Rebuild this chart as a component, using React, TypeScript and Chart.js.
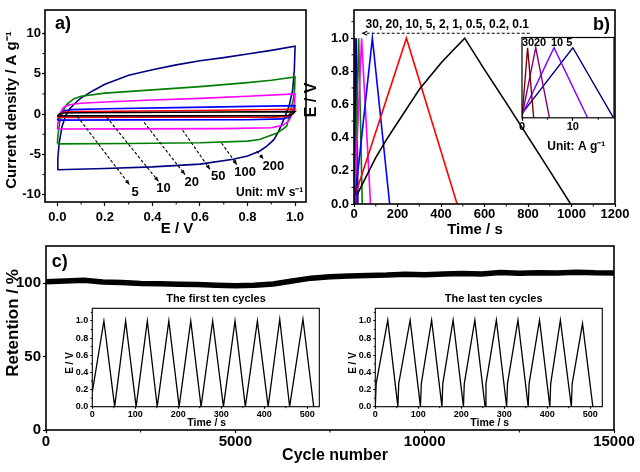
import React, { useEffect, useRef } from 'react';
import { Chart, registerables } from 'chart.js';

Chart.register(...registerables);

const FONT = "'Liberation Sans', Arial, Helvetica, sans-serif";
const bold = (s: number) => `bold ${s}px ${FONT}`;

// ---------------- Panel a: cyclic voltammetry (E / V, A g-1) ----------------
const cvRates = ['5', '10', '20', '50', '100', '200'];
const cvColors = ['#000000', '#ff0000', '#0000ff', '#ff00ff', '#008000', '#000080'];
const cv5: [number, number][] = [
  [0, -0.22], [0.01, 0.05], [0.03, 0.13], [0.1, 0.17], [0.5, 0.22], [1.0, 0.3],
  [0.99, 0.0], [0.97, -0.17], [0.9, -0.2], [0.5, -0.22], [0.0, -0.23],
];
const cv10: [number, number][] = [
  [0, -0.4], [0.01, 0.0], [0.03, 0.25], [0.1, 0.32], [0.5, 0.42], [1.0, 0.6],
  [0.99, 0.1], [0.97, -0.3], [0.9, -0.38], [0.5, -0.4], [0.0, -0.42],
];
const cv20: [number, number][] = [
  [0, -0.75], [0.01, -0.1], [0.03, 0.42], [0.06, 0.55], [0.2, 0.65], [0.5, 0.8], [1.0, 1.05],
  [0.995, 0.4], [0.98, -0.3], [0.95, -0.6], [0.8, -0.7], [0.3, -0.72], [0.0, -0.75],
];
const cv50: [number, number][] = [
  [0, -1.85], [0.003, -1.0], [0.01, 0.0], [0.025, 0.8], [0.05, 1.15], [0.1, 1.35], [0.2, 1.5],
  [0.4, 1.75], [0.6, 1.95], [0.8, 2.2], [1.0, 2.5],
  [0.998, 1.5], [0.99, 0.3], [0.975, -0.8], [0.95, -1.4], [0.9, -1.7], [0.7, -1.8], [0.3, -1.83], [0.0, -1.85],
];
const cv100: [number, number][] = [
  [0, -3.65], [0.003, -2.5], [0.01, -1.0], [0.02, 0.2], [0.04, 1.2], [0.07, 1.9], [0.1, 2.2],
  [0.2, 2.6], [0.4, 3.0], [0.6, 3.4], [0.8, 3.9], [0.9, 4.2], [1.0, 4.6],
  [0.998, 3.0], [0.993, 1.8], [0.98, 0.3], [0.965, -1.5], [0.925, -2.35], [0.85, -3.15], [0.8, -3.35],
  [0.6, -3.55], [0.3, -3.65], [0.0, -3.7],
];
const cv200: [number, number][] = [
  [0, -6.9], [0.002, -5.5], [0.008, -3.5], [0.02, -1.5], [0.035, -0.2], [0.05, 0.6], [0.08, 1.5],
  [0.1, 2.0], [0.15, 2.9], [0.2, 3.7], [0.3, 4.8], [0.4, 5.5], [0.5, 6.1], [0.6, 6.6], [0.7, 7.0],
  [0.8, 7.45], [0.9, 7.9], [1.0, 8.4],
  [0.997, 5.5], [0.99, 3.0], [0.975, 1.0], [0.955, -0.5], [0.93, -2.2], [0.91, -3.2], [0.88, -4.0],
  [0.85, -4.6], [0.8, -5.2], [0.74, -5.6], [0.6, -6.2], [0.4, -6.55], [0.2, -6.75], [0.0, -6.9],
];
const cvArrowFrom: [number, number][] = [[0.084, -0.29], [0.207, -0.37], [0.365, -1.03], [0.527, -2.0], [0.691, -3.59], [0.839, -4.6]];
const cvArrowTo: [number, number][] = [[0.303, -8.74], [0.425, -8.33], [0.537, -7.5], [0.642, -6.85], [0.755, -6.27], [0.867, -5.57]];
const cvLabelAt: [number, number][] = [[0.327, -9.7], [0.446, -9.27], [0.565, -8.45], [0.677, -7.75], [0.79, -7.2], [0.909, -6.47]];
const aXTicks = [0, 0.2, 0.4, 0.6, 0.8, 1.0];
const aYTicks = [-10, -5, 0, 5, 10];
const aXMinor = [0.1, 0.3, 0.5, 0.7, 0.9];
const aYMinor = [-7.5, -2.5, 2.5, 7.5];

// ---------------- Panel b: galvanostatic charge/discharge (Time / s, E / V) ----------------
const gcdRates = ['0.1', '0.2', '0.5', '1', '2', '5', '10', '20', '30'];
const gcdColors = ['#000000', '#ff0000', '#0000ff', '#ff00ff', '#008000', '#000080', '#8000ff', '#800080', '#800000'];
const gcd01: [number, number][] = [
  [14, 0.055], [50, 0.15], [100, 0.28], [150, 0.39], [200, 0.49], [250, 0.59], [300, 0.69],
  [350, 0.77], [400, 0.85], [450, 0.92], [509, 1.0], [600, 0.81], [700, 0.61], [800, 0.405], [900, 0.2], [996, 0],
];
const gcd02: [number, number][] = [[12, 0.08], [241, 1.0], [474, 0]];
const gcd05: [number, number][] = [[6, 0.05], [84.5, 1.0], [164, 0]];
const gcd1: [number, number][] = [[3, 0.04], [35, 1.0], [76, 0]];
const gcd2: [number, number][] = [[2, 0.03], [21.5, 1.0], [38, 0]];
const gcd5: [number, number][] = [[0, 0.06], [10, 1.0], [18, 0]];
const gcd10: [number, number][] = [[0, 0.04], [6.3, 1.0], [12.9, 0]];
const gcd20: [number, number][] = [[0, 0.02], [2.7, 1.0], [5.4, 0]];
const gcd30: [number, number][] = [[0, 0.0], [1.1, 1.0], [2.3, 0]];
const bXTicks = [0, 200, 400, 600, 800, 1000, 1200];
const bYTicks = [0, 0.2, 0.4, 0.6, 0.8, 1.0];
const bXMinor = [100, 300, 500, 700, 900, 1100];
const bYMinor = [0.1, 0.3, 0.5, 0.7, 0.9, 1.1];
const insetRates = ['30', '20', '10', '5'];
const insetLabelAt: [number, number][] = [[1.2, 1.075], [3.55, 1.075], [6.9, 1.075], [9.3, 1.075]];
const bInsetXTicks = [0, 10];
const bInsetXMinor = [5, 15];

// ---------------- Panel c: cycling stability ----------------
const cycles = [0, 500, 1000, 1500, 2000, 2500, 3000, 3500, 4000, 4500, 5000, 5500, 6000, 6500, 7000, 7500,
  8000, 8500, 9000, 9500, 10000, 10500, 11000, 11500, 12000, 12500, 13000, 13500, 14000, 14500, 15000];
const retention = [101.0, 101.6, 102.0, 100.9, 100.6, 99.9, 99.6, 99.4, 99.1, 98.7, 98.3, 98.7, 99.5, 101.5,
  103.5, 104.5, 105.0, 105.3, 105.6, 106.2, 105.8, 106.4, 106.6, 106.4, 107.3, 106.9, 107.2, 107.0, 107.5, 107.1, 107.0];
const cXTicks = [0, 5000, 10000, 15000];
const cYTicks = [0, 50, 100];
const cXMinor = [2500, 7500, 12500];

const firstT = [0, 27, 52, 77.5, 102, 128, 151, 178, 202, 229, 253, 280, 305, 332, 356, 384, 409, 436, 459, 490, 515];
const firstE = [0.17, 1.0, 0, 1.0, 0, 1.0, 0, 1.0, 0, 1.0, 0, 1.0, 0, 1.0, 0, 1.0, 0, 1.02, 0, 1.02, 0];
const lastT = [0, 2, 29, 52.5, 54.5, 81, 105, 107, 131, 155, 157, 181, 205, 207, 231.5, 255.4, 257.4, 281.6,
  305.5, 307.5, 331.8, 355.7, 357.7, 382, 406, 408, 430.5, 456, 458, 482, 506];
const lastE = [0, 0.27, 1.01, 0, 0.27, 1.01, 0, 0.27, 1.01, 0, 0.27, 1.01, 0, 0.27, 1.01, 0, 0.27, 1.01,
  0, 0.27, 1.01, 0, 0.27, 1.01, 0, 0.27, 1.01, 0, 0.27, 0.97, 0];
const insXTicks = [0, 100, 200, 300, 400, 500];
const insYTicks = [0, 0.2, 0.4, 0.6, 0.8, 1.0];
const insXMinor = [50, 150, 250, 350, 450];
const insYMinor = [0.1, 0.3, 0.5, 0.7, 0.9, 1.1];

// ---------------- helpers ----------------
type Txt = { text: string; x: number; y: number; size: number; align?: CanvasTextAlign; rot?: number; data?: boolean };
type Arrow = { from: [number, number]; to: [number, number]; filled: boolean; head: number };
type Deco = {
  frame: number; minorX?: number[]; minorY?: number[]; minorLen?: number;
  texts?: Txt[]; arrows?: Arrow[];
};

function makeDeco(cfg: Deco) {
  return {
    id: 'deco',
    afterDraw(chart: any) {
      const ctx: CanvasRenderingContext2D = chart.ctx;
      const ca = chart.chartArea;
      const xs = chart.scales.x;
      const ys = chart.scales.y;
      ctx.save();
      ctx.strokeStyle = '#000';
      ctx.fillStyle = '#000';
      ctx.lineWidth = 1;
      const ml = cfg.minorLen ?? 2.5;
      ctx.beginPath();
      (cfg.minorX || []).forEach((v) => {
        const p = xs.getPixelForValue(v);
        ctx.moveTo(p, ca.bottom);
        ctx.lineTo(p, ca.bottom + ml);
      });
      (cfg.minorY || []).forEach((v) => {
        const p = ys.getPixelForValue(v);
        ctx.moveTo(ca.left - ml, p);
        ctx.lineTo(ca.left, p);
      });
      ctx.stroke();
      ctx.lineWidth = cfg.frame;
      ctx.strokeRect(ca.left, ca.top, ca.right - ca.left, ca.bottom - ca.top);
      (cfg.arrows || []).forEach((a) => {
        const x1 = xs.getPixelForValue(a.from[0]);
        const y1 = ys.getPixelForValue(a.from[1]);
        const x2 = xs.getPixelForValue(a.to[0]);
        const y2 = ys.getPixelForValue(a.to[1]);
        ctx.lineWidth = 1.1;
        ctx.setLineDash([3, 2]);
        ctx.beginPath();
        ctx.moveTo(x1, y1);
        ctx.lineTo(x2, y2);
        ctx.stroke();
        ctx.setLineDash([]);
        const ang = Math.atan2(y2 - y1, x2 - x1);
        const s = a.head;
        const a1 = ang + Math.PI - 0.42;
        const a2 = ang + Math.PI + 0.42;
        ctx.beginPath();
        ctx.moveTo(x2 + s * Math.cos(a1), y2 + s * Math.sin(a1));
        ctx.lineTo(x2, y2);
        ctx.lineTo(x2 + s * Math.cos(a2), y2 + s * Math.sin(a2));
        if (a.filled) {
          ctx.closePath();
          ctx.fill();
        } else {
          ctx.stroke();
        }
      });
      (cfg.texts || []).forEach((t) => {
        const px = t.data ? xs.getPixelForValue(t.x) : t.x;
        const py = t.data ? ys.getPixelForValue(t.y) : t.y;
        ctx.save();
        ctx.translate(px, py);
        if (t.rot) ctx.rotate(t.rot);
        ctx.font = bold(t.size);
        ctx.textAlign = t.align || 'center';
        ctx.textBaseline = 'middle';
        ctx.fillText(t.text, 0, 0);
        ctx.restore();
      });
      ctx.restore();
    },
  };
}

function lin(min: number, max: number, ticks: number[], fmt: (v: number) => string, fs: number,
  fixed: number, tl: number, pad: number, show = true) {
  return {
    type: 'linear',
    display: show,
    min,
    max,
    afterBuildTicks: (s: any) => {
      s.ticks = ticks.map((v) => ({ value: v }));
    },
    afterFit: (s: any) => {
      if (s.isHorizontal()) s.height = fixed;
      else s.width = fixed;
    },
    ticks: {
      autoSkip: false,
      maxRotation: 0,
      minRotation: 0,
      padding: pad,
      color: '#000',
      font: { family: FONT, size: fs, weight: 'bold' },
      callback: (v: number) => fmt(v),
    },
    grid: { drawOnChartArea: false, drawTicks: true, tickLength: tl, tickWidth: 1.2, tickColor: '#000', color: '#000' },
    border: { display: false },
  };
}

function baseOptions(padding: any, scales: any) {
  return {
    responsive: false,
    animation: false,
    events: [],
    layout: { padding },
    plugins: { legend: { display: false }, tooltip: { enabled: false }, title: { display: false } },
    scales,
  };
}

const pts = (d: [number, number][]) => d.map(([x, y]) => ({ x, y }));
const zipPts = (xs: number[], ys: number[]) => xs.map((x, i) => ({ x, y: ys[i] }));
const lineSet = (data: any[], color: string, w: number) => ({
  data, borderColor: color, backgroundColor: color, borderWidth: w, pointRadius: 0, tension: 0, fill: false,
});
const f1 = (v: number) => v.toFixed(1);
const f0 = (v: number) => String(v);

// ---------------- configs ----------------
function cfgA() {
  const sets = [cv5, cv10, cv20, cv50, cv100, cv200].map((d, i) => lineSet(pts(d), cvColors[i], 1.6));
  const arrows: Arrow[] = cvArrowFrom.map((f, i) => ({ from: f, to: cvArrowTo[i], filled: true, head: 5 }));
  const texts: Txt[] = cvRates.map((r, i) => ({ text: r, x: cvLabelAt[i][0], y: cvLabelAt[i][1], size: 13, data: true }));
  texts.push({ text: 'a)', x: -0.01, y: 11.2, size: 18, align: 'left', data: true });
  texts.push({ text: 'Unit: mV s⁻¹', x: 0.893, y: -9.75, size: 12, data: true });
  texts.push({ text: 'Current density / A g⁻¹', x: 11.5, y: 110, size: 15, rot: -Math.PI / 2 });
  texts.push({ text: 'E / V', x: 177, y: 229, size: 15 });
  return {
    type: 'line',
    data: { datasets: sets },
    options: baseOptions({ left: 0, top: 10, right: 14, bottom: 0 }, {
      x: lin(-0.052, 1.046, aXTicks, f1, 13, 38, 4, 4),
      y: lin(-10.9, 12.9, aYTicks, f0, 13, 45, 3, 1),
    }),
    plugins: [makeDeco({ frame: 1.6, minorX: aXMinor, minorY: aYMinor, arrows, texts })],
  };
}

function cfgB() {
  const data = [gcd01, gcd02, gcd05, gcd1, gcd2, gcd5, gcd10, gcd20, gcd30];
  const sets = data.map((d, i) => lineSet(pts(d), gcdColors[i], 1.6));
  const texts: Txt[] = [
    { text: gcdRates.slice().reverse().join(', '), x: 429, y: 1.08, size: 12, data: true },
    { text: 'b)', x: 1177, y: 1.08, size: 18, align: 'right', data: true },
    { text: 'Unit: A g⁻¹', x: 1022, y: 0.346, size: 12, data: true },
    { text: 'E / V', x: 11.7, y: 100, size: 16, rot: -Math.PI / 2 },
    { text: 'Time / s', x: 175, y: 230, size: 15 },
  ];
  const arrows: Arrow[] = [{ from: [808, 1.03], to: [40, 1.03], filled: false, head: 5 }];
  return {
    type: 'line',
    data: { datasets: sets },
    options: baseOptions({ left: 0, top: 10, right: 25, bottom: 0 }, {
      x: lin(0, 1200, bXTicks, f0, 13, 36, 3, 0),
      y: lin(0, 1.17, bYTicks, f1, 13, 54, 3, 2),
    }),
    plugins: [makeDeco({ frame: 1.6, minorX: bXMinor, minorY: bYMinor, arrows, texts })],
  };
}

function cfgBInset() {
  const data = [gcd30, gcd20, gcd10, gcd5];
  const cols = ['#800000', '#800080', '#8000ff', '#000080'];
  const sets = data.map((d, i) => lineSet(pts(d), cols[i], 1.4));
  const texts: Txt[] = insetRates.map((r, i) => ({ text: r, x: insetLabelAt[i][0], y: insetLabelAt[i][1], size: 11, data: true }));
  return {
    type: 'line',
    data: { datasets: sets },
    options: baseOptions({ left: 7, top: 7.5, right: 6, bottom: 0 }, {
      x: lin(0, 18.1, bInsetXTicks, f0, 11, 27.2, 3, 0),
      y: lin(0, 1.146, [], f1, 9, 0, 0, 0, false),
    }),
    plugins: [makeDeco({ frame: 1.2, minorX: bInsetXMinor, minorLen: 2, texts })],
  };
}

function cfgC() {
  const sets = [{ ...lineSet(zipPts(cycles, retention), '#000', 5.5), borderJoinStyle: 'miter' }];
  const texts: Txt[] = [
    { text: 'c)', x: 150, y: 114.7, size: 18, align: 'left', data: true },
    { text: 'Retention / %', x: 13, y: 88, size: 17, rot: -Math.PI / 2 },
    { text: 'Cycle number', x: 335, y: 221, size: 16 },
  ];
  return {
    type: 'line',
    data: { datasets: sets },
    options: baseOptions({ left: 0, top: 11, right: 26, bottom: 0 }, {
      x: lin(0, 15000, cXTicks, f0, 15, 42, 3, 0),
      y: lin(0, 125.4, cYTicks, f0, 15, 46, 3, 2),
    }),
    plugins: [makeDeco({ frame: 1.6, minorX: cXMinor, texts })],
  };
}

function cfgInset(t: number[], e: number[], title: string, titleX: number) {
  const texts: Txt[] = [
    { text: title, x: titleX, y: 9.3, size: 11 },
    { text: 'E / V', x: 15.5, y: 73, size: 10, rot: -Math.PI / 2 },
    { text: 'Time / s', x: 151.7, y: 133.3, size: 10.5 },
  ];
  return {
    type: 'line',
    data: { datasets: [lineSet(zipPts(t, e), '#000', 1.3)] },
    options: baseOptions({ left: 0, top: 18.3, right: 10.7, bottom: 0 }, {
      x: lin(0, 528, insXTicks, f0, 9, 23.3, 2, 0),
      y: lin(0, 1.148, insYTicks, f1, 9, 37.3, 2, 2),
    }),
    plugins: [makeDeco({ frame: 1.1, minorX: insXMinor, minorY: insYMinor, minorLen: 1.5, texts })],
  };
}

function ChartCanvas(props: { left: number; top: number; width: number; height: number; make: () => any }) {
  const ref = useRef<HTMLCanvasElement>(null);
  useEffect(() => {
    const chart = new Chart(ref.current as HTMLCanvasElement, props.make());
    return () => chart.destroy();
  }, []);
  const { left, top, width, height } = props;
  return (
    <canvas
      ref={ref}
      width={width}
      height={height}
      style={{ position: 'absolute', left, top, width, height, display: 'block' }}
    />
  );
}

export default function App() {
  useEffect(() => {
    document.body.style.margin = '0';
  }, []);
  return (
    <div style={{ position: 'fixed', left: 0, top: 0, width: 640, height: 472, background: '#fff', overflow: 'hidden' }}>
      <ChartCanvas left={0} top={0} width={320} height={240} make={cfgA} />
      <ChartCanvas left={300} top={0} width={340} height={240} make={cfgB} />
      <ChartCanvas left={515} top={30} width={105} height={115} make={cfgBInset} />
      <ChartCanvas left={0} top={235} width={640} height={237} make={cfgC} />
      <ChartCanvas left={55} top={290} width={275} height={140}
        make={() => cfgInset(firstT, firstE, 'The first ten cycles', 161)} />
      <ChartCanvas left={338.4} top={290} width={275} height={140}
        make={() => cfgInset(lastT, lastE, 'The last ten cycles', 155.6)} />
    </div>
  );
}
